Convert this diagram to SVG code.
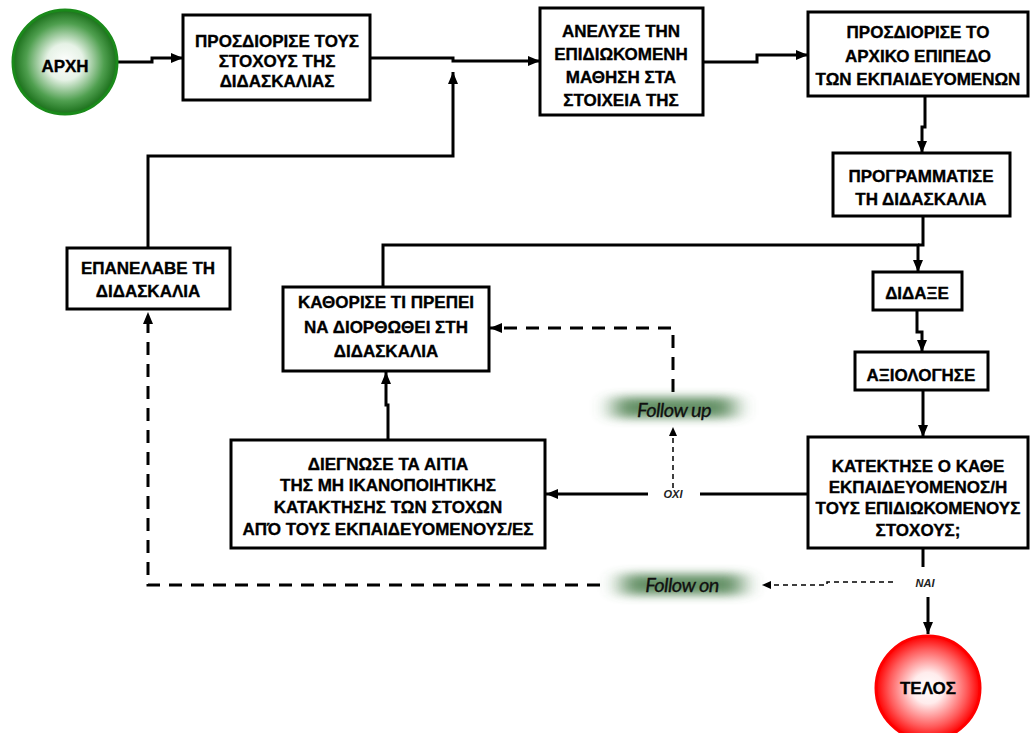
<svg xmlns="http://www.w3.org/2000/svg" width="1032" height="733" viewBox="0 0 1032 733">
<defs>
<radialGradient id="gGreen" cx="50%" cy="50%" r="50%">
<stop offset="0" stop-color="#ffffff"/>
<stop offset="0.35" stop-color="#e6f2e6"/>
<stop offset="0.75" stop-color="#4f9f4f"/>
<stop offset="1" stop-color="#1a6f1a"/>
</radialGradient>
<radialGradient id="gRed" cx="50%" cy="50%" r="50%">
<stop offset="0" stop-color="#ffffff"/>
<stop offset="0.3" stop-color="#ffecec"/>
<stop offset="0.75" stop-color="#ff5a5a"/>
<stop offset="1" stop-color="#ff0000"/>
</radialGradient>
<filter id="glow" x="-50%" y="-150%" width="200%" height="400%">
<feGaussianBlur stdDeviation="11 5"/>
</filter>
<marker id="ah" markerUnits="userSpaceOnUse" markerWidth="12" markerHeight="10" refX="12" refY="5" orient="auto">
<path d="M0,0 L12,5 L0,10 z" fill="#000"/>
</marker>
<marker id="ahs" markerUnits="userSpaceOnUse" markerWidth="9" markerHeight="8" refX="9" refY="4" orient="auto">
<path d="M0,0 L9,4 L0,8 z" fill="#000"/>
</marker>
</defs>
<style>
.box{fill:#fff;stroke:#000;stroke-width:3}
.t{font-family:"Liberation Sans",Arial,sans-serif;font-weight:bold;font-size:17px;fill:#000;stroke:#000;stroke-width:0.35;text-anchor:middle}
.c{fill:none;stroke:#000;stroke-width:3}
.ca{fill:none;stroke:#000;stroke-width:3;marker-end:url(#ah)}
.dt{fill:none;stroke:#000;stroke-width:3;stroke-dasharray:13 9;marker-end:url(#ah)}
.dn{fill:none;stroke:#000;stroke-width:1.5;stroke-dasharray:5 4;marker-end:url(#ahs)}
.lab{font-family:"Liberation Sans",Arial,sans-serif;font-style:italic;font-weight:bold;font-size:11px;fill:#222;text-anchor:middle}
.fl{font-family:Lato,"Open Sans",sans-serif;font-style:italic;font-size:20px;letter-spacing:-0.6px;fill:#111;stroke:#111;stroke-width:0.3;text-anchor:middle}
.gl{fill:#4a7e4b;opacity:0.85}
</style>

<g id="connectors">
<path class="ca" d="M118,62 H152 V58 H183"/>
<path class="ca" d="M370,58 H453 V61 H540"/>
<path class="ca" d="M148,248 V156 H453 V72"/>
<path class="ca" d="M703,62 H757 V55 H808"/>
<path class="ca" d="M925,96 V127 H922 V153"/>
<path class="c" d="M923,216 V245 H918"/>
<path class="ca" d="M383,287 V245 H918 V272"/>
<path class="ca" d="M917,310 V332 H922 V352"/>
<path class="ca" d="M923,390 V437"/>
<path class="c" d="M808,494 H700"/>
<path class="ca" d="M648,494 H546"/>
<path class="ca" d="M388,440 V405 H386 V372"/>
<path class="dn" d="M673,488 V427"/>
<path class="dt" d="M673,392 V328 H490"/>
<path class="c" d="M923,548 V567"/>
<path class="ca" d="M928,597 V634"/>
<path class="dn" d="M893,582 H827 V585 H762"/>
<path class="dt" d="M600,585 H148 V312"/>
</g>

<g id="label-followup">
<rect class="gl" x="614" y="397" width="120" height="21" filter="url(#glow)"/>
<text class="fl" x="674" y="417">Follow up</text>
</g>
<g id="label-followon">
<rect class="gl" x="622" y="574" width="120" height="21" filter="url(#glow)"/>
<text class="fl" x="682" y="592">Follow on</text>
</g>
<g id="label-oxi"><text class="lab" x="673" y="498">ΟΧΙ</text></g>
<g id="label-nai"><text class="lab" x="925" y="587">ΝΑΙ</text></g>

<g id="n-start">
<circle cx="65" cy="62" r="52" fill="url(#gGreen)" stroke="#1a8a1a" stroke-width="3"/>
<text class="t" x="65" y="72">ΑΡΧΗ</text>
</g>
<g id="n-goals">
<rect class="box" x="183" y="15" width="187" height="85"/>
<text class="t" x="277" y="47">ΠΡΟΣΔΙΟΡΙΣΕ ΤΟΥΣ</text>
<text class="t" x="277" y="67">ΣΤΟΧΟΥΣ ΤΗΣ</text>
<text class="t" x="277" y="87">ΔΙΔΑΣΚΑΛΙΑΣ</text>
</g>
<g id="n-analyse">
<rect class="box" x="540" y="8" width="163" height="107"/>
<text class="t" x="621" y="37">ΑΝΕΛΥΣΕ ΤΗΝ</text>
<text class="t" x="621" y="60">ΕΠΙΔΙΩΚΟΜΕΝΗ</text>
<text class="t" x="621" y="83">ΜΑΘΗΣΗ ΣΤΑ</text>
<text class="t" x="621" y="106">ΣΤΟΙΧΕΙΑ ΤΗΣ</text>
</g>
<g id="n-level">
<rect class="box" x="808" y="12" width="220" height="84"/>
<text class="t" x="918" y="38">ΠΡΟΣΔΙΟΡΙΣΕ ΤΟ</text>
<text class="t" x="918" y="62">ΑΡΧΙΚΟ ΕΠΙΠΕΔΟ</text>
<text class="t" x="918" y="85">ΤΩΝ ΕΚΠΑΙΔΕΥΟΜΕΝΩΝ</text>
</g>
<g id="n-plan">
<rect class="box" x="833" y="153" width="177" height="63"/>
<text class="t" x="921" y="182">ΠΡΟΓΡΑΜΜΑΤΙΣΕ</text>
<text class="t" x="921" y="205">ΤΗ ΔΙΔΑΣΚΑΛΙΑ</text>
</g>
<g id="n-teach">
<rect class="box" x="873" y="272" width="89" height="38"/>
<text class="t" x="917" y="299">ΔΙΔΑΞΕ</text>
</g>
<g id="n-assess">
<rect class="box" x="855" y="352" width="133" height="38"/>
<text class="t" x="921" y="381">ΑΞΙΟΛΟΓΗΣΕ</text>
</g>
<g id="n-decision">
<rect class="box" x="808" y="437" width="220" height="111"/>
<text class="t" x="918" y="472">ΚΑΤΕΚΤΗΣΕ Ο ΚΑΘΕ</text>
<text class="t" x="918" y="493">ΕΚΠΑΙΔΕΥΟΜΕΝΟΣ/Η</text>
<text class="t" x="918" y="514">ΤΟΥΣ ΕΠΙΔΙΩΚΟΜΕΝΟΥΣ</text>
<text class="t" x="918" y="536">ΣΤΟΧΟΥΣ;</text>
</g>
<g id="n-diagnose">
<rect class="box" x="231" y="440" width="314" height="108"/>
<text class="t" x="388" y="470">ΔΙΕΓΝΩΣΕ ΤΑ ΑΙΤΙΑ</text>
<text class="t" x="388" y="491">ΤΗΣ ΜΗ ΙΚΑΝΟΠΟΙΗΤΙΚΗΣ</text>
<text class="t" x="388" y="513">ΚΑΤΑΚΤΗΣΗΣ ΤΩΝ ΣΤΟΧΩΝ</text>
<text class="t" x="388" y="535">ΑΠΌ ΤΟΥΣ ΕΚΠΑΙΔΕΥΟΜΕΝΟΥΣ/ΕΣ</text>
</g>
<g id="n-correct">
<rect class="box" x="283" y="287" width="206" height="84"/>
<text class="t" x="386" y="308">ΚΑΘΟΡΙΣΕ ΤΙ ΠΡΕΠΕΙ</text>
<text class="t" x="386" y="333">ΝΑ ΔΙΟΡΘΩΘΕΙ ΣΤΗ</text>
<text class="t" x="386" y="357">ΔΙΔΑΣΚΑΛΙΑ</text>
</g>
<g id="n-repeat">
<rect class="box" x="67" y="248" width="163" height="61"/>
<text class="t" x="148" y="274">ΕΠΑΝΕΛΑΒΕ ΤΗ</text>
<text class="t" x="148" y="297">ΔΙΔΑΣΚΑΛΙΑ</text>
</g>
<g id="n-end">
<circle cx="928" cy="688" r="52" fill="url(#gRed)" stroke="#ff0000" stroke-width="3"/>
<text class="t" x="928" y="694">ΤΕΛΟΣ</text>
</g>
</svg>
